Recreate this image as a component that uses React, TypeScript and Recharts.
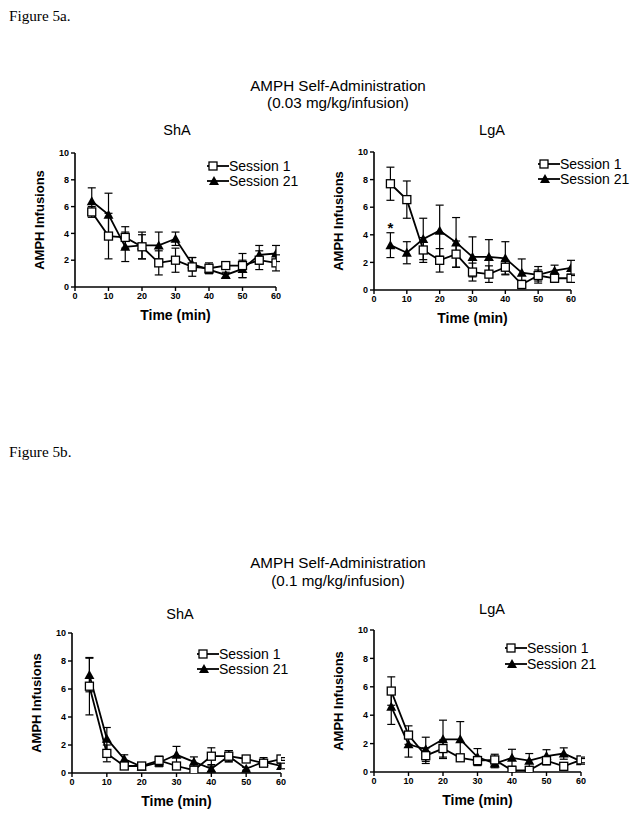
import { LineChart, Line, XAxis, YAxis, ErrorBar, Legend, ReferenceDot } from "recharts";

const minutes = [5, 10, 15, 20, 25, 30, 35, 40, 45, 50, 55, 60];
const xTicks = [0, 10, 20, 30, 40, 50, 60];
const yTicks = [0, 2, 4, 6, 8, 10];
const sessionNames = ["Session 1", "Session 21"];

// 0.03 mg/kg/infusion, ShA
const shaLowS1 = [5.6, 3.8, 3.7, 3.0, 1.8, 2.0, 1.5, 1.4, 1.6, 1.6, 2.0, 1.8];
const shaLowS1Err = [0.4, 1.7, 0.8, 0.9, 0.9, 0.9, 0.7, 0.4, 0.2, 0.9, 0.7, 0.6];
const shaLowS21 = [6.4, 5.4, 3.0, 3.1, 3.1, 3.6, 1.7, 1.3, 0.9, 1.35, 2.4, 2.5];
const shaLowS21Err = [1.0, 1.6, 1.1, 1.0, 1.0, 0.5, 0.5, 0.3, 0.2, 0.65, 0.7, 0.6];

// 0.03 mg/kg/infusion, LgA
const lgaLowS1 = [7.7, 6.55, 2.9, 2.15, 2.6, 1.3, 1.15, 1.65, 0.4, 1.05, 0.85, 0.85];
const lgaLowS1Err = [1.2, 1.35, 0.9, 0.85, 0.95, 0.65, 0.6, 0.5, 0.3, 0.4, 0.3, 0.3];
const lgaLowS21 = [3.25, 2.7, 3.7, 4.3, 3.45, 2.4, 2.4, 2.3, 1.25, 1.1, 1.4, 1.6];
const lgaLowS21Err = [0.9, 0.8, 1.5, 1.85, 1.8, 1.45, 1.25, 1.2, 1.0, 0.6, 0.4, 0.55];

// 0.1 mg/kg/infusion, ShA
const shaHighS1 = [6.2, 1.4, 0.5, 0.5, 0.9, 0.5, 0.2, 1.2, 1.2, 1.0, 0.7, 1.0];
const shaHighS1Err = [2.05, 0.6, 0.2, 0.2, 0.3, 0.2, 0.1, 0.6, 0.4, 0.1, 0.2, 0.1];
const shaHighS21 = [7.0, 2.45, 1.0, 0.45, 0.75, 1.3, 0.8, 0.3, 1.2, 0.3, 0.8, 0.5];
const shaHighS21Err = [1.2, 0.8, 0.3, 0.2, 0.3, 0.6, 0.35, 0.2, 0.4, 0.1, 0.3, 0.2];

// 0.1 mg/kg/infusion, LgA
const lgaHighS1 = [5.7, 2.6, 1.15, 1.65, 1.0, 0.8, 0.85, 0.12, 0.12, 0.8, 0.4, 0.85];
const lgaHighS1Err = [1.0, 0.65, 0.55, 0.6, 0.2, 0.3, 0.4, 0.1, 0.1, 0.3, 0.2, 0.2];
const lgaHighS21 = [4.6, 1.95, 1.6, 2.3, 2.3, 1.05, 0.6, 1.0, 0.8, 1.12, 1.3, 0.75];
const lgaHighS21Err = [1.25, 0.9, 0.85, 1.35, 1.25, 0.6, 0.3, 0.6, 0.5, 0.45, 0.4, 0.2];

const SANS = "'Liberation Sans', Arial, sans-serif";
const SERIF = "'Liberation Serif', 'Times New Roman', serif";
const YW = 50;

function buildRows(s1: number[], e1: number[], s21: number[], e21: number[]) {
  return minutes.map((t, i) => ({ t, s1: s1[i], e1: e1[i], s21: s21[i], e21: e21[i] }));
}

const SquareDot = (p: any) => {
  const { cx, cy, index } = p;
  if (cx == null || cy == null) return null;
  return <rect key={"sq" + index} x={cx - 4} y={cy - 4} width={8} height={8} fill="#fff" stroke="#000" strokeWidth={1.3} />;
};

const TriangleDot = (p: any) => {
  const { cx, cy, index } = p;
  if (cx == null || cy == null) return null;
  return <path key={"tr" + index} d={`M${cx},${cy - 5} L${cx + 5},${cy + 4} L${cx - 5},${cy + 4} Z`} fill="#000" />;
};

const YLabel = (p: any) => {
  const vb = p.viewBox || {};
  const cx = vb.x + YW - 36;
  const cy = vb.y + vb.height / 2;
  return (
    <text x={cx} y={cy} transform={`rotate(-90 ${cx} ${cy})`} textAnchor="middle" dominantBaseline="central"
      fontFamily={SANS} fontWeight="bold" fontSize={13} fill="#000">
      AMPH Infusions
    </text>
  );
};

const XLabel = (p: any) => {
  const vb = p.viewBox || {};
  return (
    <text x={vb.x + vb.width / 2} y={vb.y + 28} textAnchor="middle" dominantBaseline="central"
      fontFamily={SANS} fontWeight="bold" fontSize={14} fill="#000">
      Time (min)
    </text>
  );
};

function LegendBox({ rowH }: { rowH: number }) {
  return (
    <div style={{ fontFamily: SANS, fontSize: 14, color: "#000" }}>
      {sessionNames.map((n, i) => (
        <div key={n} style={{ display: "flex", alignItems: "center", height: rowH, whiteSpace: "nowrap" }}>
          <svg width={22} height={12} style={{ display: "block" }}>
            <line x1={0} y1={6} x2={22} y2={6} stroke="#000" strokeWidth={1.8} />
            {i === 0 ? (
              <rect x={2} y={2} width={8} height={8} fill="#fff" stroke="#000" strokeWidth={1.3} />
            ) : (
              <path d="M7,1 L12,10 L2,10 Z" fill="#000" />
            )}
          </svg>
          <span style={{ lineHeight: 1 }}>{n}</span>
        </div>
      ))}
    </div>
  );
}

type PanelProps = {
  rows: ReturnType<typeof buildRows>;
  left: number;
  top: number;
  w: number;
  h: number;
  legendX: number;
  legendY: number;
  rowH: number;
  star?: boolean;
};

function Panel({ rows, left, top, w, h, legendX, legendY, rowH, star }: PanelProps) {
  const tickStyle = { fontFamily: SANS, fontWeight: "bold", fontSize: 9, fill: "#000" } as any;
  return (
    <div style={{ position: "absolute", left: left - YW, top: top - 10 }}>
      <LineChart width={YW + w + 40} height={h + 55} data={rows}
        margin={{ top: 10, right: 40, bottom: 0, left: 0 }}>
        <XAxis dataKey="t" type="number" domain={[0, 60]} ticks={xTicks} height={45}
          axisLine={{ stroke: "#000", strokeWidth: 1.6 }} tickLine={{ stroke: "#000", strokeWidth: 1.4 }}
          tickSize={4} tickMargin={2} tick={tickStyle} label={<XLabel />} allowDataOverflow />
        <YAxis type="number" domain={[0, 10]} ticks={yTicks} width={YW}
          axisLine={{ stroke: "#000", strokeWidth: 1.6 }} tickLine={{ stroke: "#000", strokeWidth: 1.4 }}
          tickSize={4} tickMargin={2} tick={tickStyle} label={<YLabel />} allowDataOverflow />
        <Line dataKey="s21" name={sessionNames[1]} stroke="#000" strokeWidth={1.8}
          dot={TriangleDot} activeDot={false} isAnimationActive={false}>
          <ErrorBar dataKey="e21" direction="y" width={4} stroke="#000" strokeWidth={1.2} />
        </Line>
        <Line dataKey="s1" name={sessionNames[0]} stroke="#000" strokeWidth={1.8}
          dot={SquareDot} activeDot={false} isAnimationActive={false}>
          <ErrorBar dataKey="e1" direction="y" width={4} stroke="#000" strokeWidth={1.2} />
        </Line>
        {star && (
          <ReferenceDot x={5} y={4.5} r={0} ifOverflow="visible"
            label={{ value: "*", position: "center", fontFamily: SANS, fontWeight: "bold", fontSize: 15, fill: "#000" }} />
        )}
        <Legend layout="vertical" align="center" verticalAlign="middle"
          wrapperStyle={{ left: legendX, top: legendY, width: 110, margin: 0 }}
          content={() => <LegendBox rowH={rowH} />} />
      </LineChart>
    </div>
  );
}

function Txt({ x, y, size, children, serif, anchor }: any) {
  return (
    <div style={{
      position: "absolute", left: x, top: y, transform: anchor === "left" ? "translate(0,-50%)" : "translate(-50%,-50%)",
      fontFamily: serif ? SERIF : SANS, fontSize: size, lineHeight: 1, whiteSpace: "nowrap", color: "#000",
    }}>
      {children}
    </div>
  );
}

export default function App() {
  return (
    <div style={{ position: "absolute", left: 0, top: 0, width: 637, height: 818, background: "#fff", overflow: "hidden" }}>
      <Txt x={9} y={16} size={15.2} serif anchor="left">Figure 5a.</Txt>
      <Txt x={338} y={86} size={15.2}>AMPH Self-Administration</Txt>
      <Txt x={338} y={103} size={15.2}>(0.03 mg/kg/infusion)</Txt>
      <Txt x={177} y={130} size={14.5}>ShA</Txt>
      <Txt x={492} y={130} size={14.5}>LgA</Txt>

      <Panel rows={buildRows(shaLowS1, shaLowS1Err, shaLowS21, shaLowS21Err)}
        left={75} top={153} w={201} h={134} legendX={182} legendY={16} rowH={14.5} />
      <Panel rows={buildRows(lgaLowS1, lgaLowS1Err, lgaLowS21, lgaLowS21Err)}
        left={374} top={152} w={197} h={138} legendX={214} legendY={15} rowH={14.5} star />

      <Txt x={9} y={452} size={15.2} serif anchor="left">Figure 5b.</Txt>
      <Txt x={338} y={563} size={15.2}>AMPH Self-Administration</Txt>
      <Txt x={338} y={581} size={15.2}>(0.1 mg/kg/infusion)</Txt>
      <Txt x={180} y={614} size={14.5}>ShA</Txt>
      <Txt x={492} y={609} size={14.5}>LgA</Txt>

      <Panel rows={buildRows(shaHighS1, shaHighS1Err, shaHighS21, shaHighS21Err)}
        left={72} top={633} w={209} h={140} legendX={175} legendY={24} rowH={14.5} />
      <Panel rows={buildRows(lgaHighS1, lgaHighS1Err, lgaHighS21, lgaHighS21Err)}
        left={374} top={630} w={207} h={142} legendX={181} legendY={20} rowH={16} />
    </div>
  );
}
